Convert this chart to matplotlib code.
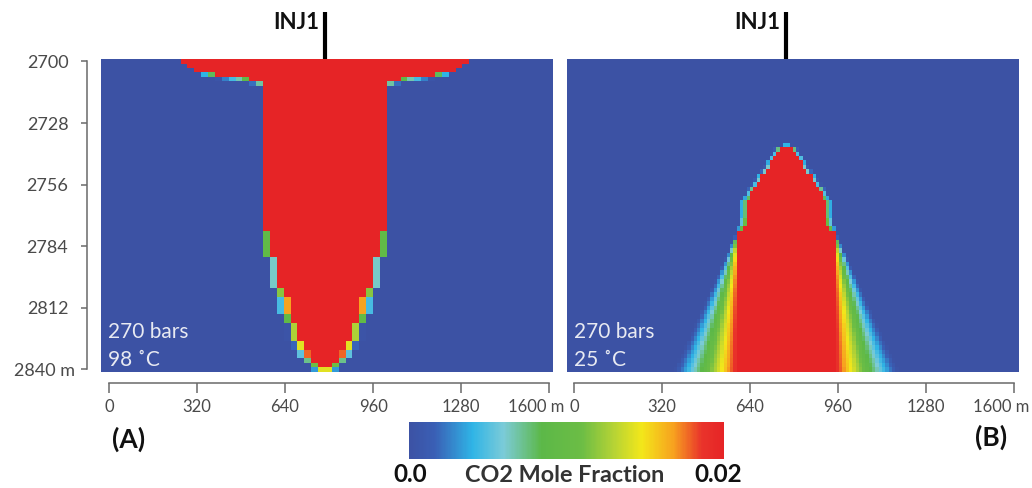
import numpy as np
import matplotlib
matplotlib.use("Agg")
import matplotlib.pyplot as plt
from matplotlib.colors import LinearSegmentedColormap
from matplotlib import transforms

plt.rcParams['font.family'] = ['Lato', 'DejaVu Sans']

# ---------------- data ----------------
x_ticks = [0, 320, 640, 960, 1280, 1600]
x_labels = ['0', '320', '640', '960', '1280', '1600 m']
y_ticks = [2700, 2728, 2756, 2784, 2812, 2840]
y_labels = ['2700', '2728', '2756', '2784', '2812', '2840 m']

panel_tags = ['(A)', '(B)']
pressure_text = ['270 bars', '270 bars']
temperature_text = ['98 ˚C', '25 ˚C']
well_name = 'INJ1'
well_x = [785, 772]            # m, injection well position
x_range = [(-29, 1614), (-25, 1618)]
depth_range = (2699, 2841)
cell_dx = [25, 12]             # m, horizontal cell size per panel
cell_dz = 2                    # m, vertical cell size
co2_max = 0.02

# per-row (2 m rows, 2700..2840 m) half-widths of plume (m from well)
A_core = [513, 494, 465, 407, 284, 227, 227, 227, 227, 227,
          227, 227, 227, 227, 227, 227, 227, 227, 227, 227,
          227, 227, 227, 227, 227, 227, 227, 227, 227, 227,
          227, 227, 227, 227, 227, 227, 227, 227, 227, 196,
          196, 196, 196, 196, 196, 164, 164, 164, 164, 164,
          164, 164, 150, 150, 135, 135, 135, 135, 120, 120,
          102, 102, 102, 102, 80, 80, 62, 62, 40, 22,
          4]
A_outer = [513, 500, 483, 462, 393, 273, 227, 227, 227, 227,
           227, 227, 227, 227, 227, 227, 227, 227, 227, 227,
           227, 227, 227, 227, 227, 227, 227, 227, 227, 227,
           227, 227, 227, 227, 227, 227, 227, 227, 227, 230,
           230, 230, 230, 230, 230, 200, 200, 200, 200, 200,
           200, 200, 186, 186, 172, 172, 172, 172, 156, 156,
           138, 138, 138, 138, 116, 116, 98, 98, 78, 62,
           45]
A_edge_value = [0.45, 0.45, 0.45, 0.45, 0.45, 0.45, 1, 1, 1, 1,
                1, 1, 1, 1, 1, 1, 1, 1, 1, 1,
                1, 1, 1, 1, 1, 1, 1, 1, 1, 1,
                1, 1, 1, 1, 1, 1, 1, 1, 1, 0.9,
                0.9, 0.9, 0.9, 0.9, 0.9, 0.9, 0.9, 0.9, 0.9, 0.9,
                0.9, 0.9, 0.9, 0.9, 0.9, 0.9, 0.9, 0.9, 0.9, 0.9,
                0.9, 0.9, 0.9, 0.9, 0.9, 0.9, 0.9, 0.9, 0.9, 0.9,
                0.9]

B_core = [0, 0, 0, 0, 0, 0, 0, 0, 0, 0,
          0, 0, 0, 0, 0, 0, 0, 0, 0, 0,
          29, 36, 47, 55, 62, 73, 91, 98, 105, 124,
          131, 138, 149, 149, 149, 149, 149, 149, 160, 174,
          174, 174, 174, 174, 174, 174, 174, 174, 174, 174,
          174, 174, 174, 174, 174, 174, 174, 174, 174, 174,
          174, 174, 174, 174, 174, 174, 174, 174, 174, 174,
          174]
B_outer = [0, 0, 0, 0, 0, 0, 0, 0, 0, 0,
           0, 0, 0, 0, 0, 0, 0, 0, 0, 18,
           44, 51, 65, 76, 80, 95, 113, 116, 127, 142,
           149, 160, 174, 174, 174, 174, 174, 174, 180, 180,
           187, 194, 202, 209, 216, 224, 231, 238, 245, 253,
           260, 267, 274, 282, 289, 296, 304, 311, 318, 325,
           333, 340, 347, 354, 362, 369, 376, 383, 391, 398,
           405]
B_edge_value = [0, 0, 0, 0, 0, 0, 0, 0, 0, 0,
                0, 0, 0, 0, 0, 0, 0, 0, 0, 0.3,
                0.4, 0.4, 0.4, 0.4, 0.4, 0.4, 0.4, 0.4, 0.4, 0.4,
                0.4, 0.4, 0.4, 0.4, 0.4, 0.4, 0.55, 0.55, 0.55, 1,
                1, 1, 1, 1, 1, 1, 1, 1, 1, 1,
                1, 1, 1, 1, 1, 1, 1, 1, 1, 1,
                1, 1, 1, 1, 1, 1, 1, 1, 1, 1,
                1]

cmap_stops = [0.0, 0.08, 0.2, 0.3, 0.42, 0.55, 0.65, 0.74, 0.84, 0.93, 1.0]
cmap_colors = ['#3c52a4', '#3a5fb5', '#2fb4e6', '#7ccbd8', '#5cb848', '#6cbd45',
               '#b5d335', '#f3e71a', '#f7a21f', '#e9342b', '#e62426']

# ---------------- figure ----------------
W, H = 1032, 488
fig = plt.figure(figsize=(W / 100, H / 100), dpi=100)
cmap = LinearSegmentedColormap.from_list('co2', list(zip(cmap_stops, cmap_colors)))

z_edges = np.arange(depth_range[0], depth_range[1] + 1, cell_dz)


def build_field(core, outer, edge_val, cx, dx):
    n = int(np.ceil(900 / dx))
    x_edges = cx + dx * np.arange(-n, n + 1)
    x_cent = 0.5 * (x_edges[:-1] + x_edges[1:])
    core = np.asarray(core, float)[:, None]
    outer = np.asarray(outer, float)[:, None]
    ev = np.asarray(edge_val, float)[:, None]
    d = np.abs(x_cent[None, :] - cx)
    span = np.maximum(outer - core, 1e-9)
    fringe = np.clip((outer - d) / span, 0, 1) * ev
    v = np.where(d < core, 1.0, np.where(d < outer, fringe, 0.0))
    return x_edges, v * co2_max


panels = [(A_core, A_outer, A_edge_value), (B_core, B_outer, B_edge_value)]
lefts = [101, 567]
ax_w = 452
top_px, bot_px = 59.3, 371.7
tick_color = '#4a4a4a'
spine_color = '#6a6a6a'
shift = lambda px: transforms.ScaledTranslation(px / 100, 0, fig.dpi_scale_trans)

mesh = None
for i, (core, outer, ev) in enumerate(panels):
    ax = fig.add_axes([lefts[i] / W, (H - bot_px) / H, ax_w / W, (bot_px - top_px) / H])
    x_edges, field = build_field(core, outer, ev, well_x[i], cell_dx[i])
    mesh = ax.pcolormesh(x_edges, z_edges, field, cmap=cmap, vmin=0, vmax=co2_max,
                         shading='flat', rasterized=True)
    ax.set_xlim(*x_range[i])
    ax.set_ylim(depth_range[1], depth_range[0])
    for s in ['top', 'right']:
        ax.spines[s].set_visible(False)
    ax.spines['bottom'].set_position(('outward', 8.4))
    ax.spines['bottom'].set_bounds(x_ticks[0], x_ticks[-1])
    ax.spines['bottom'].set_color(spine_color)
    ax.spines['bottom'].set_linewidth(1.1)
    ax.set_xticks(x_ticks)
    ax.set_xticklabels(x_labels)
    ax.tick_params(axis='x', direction='out', length=7, width=1.1, color=spine_color,
                   labelsize=12, labelcolor=tick_color, pad=4)
    lab = ax.get_xticklabels()[-1]
    lab.set_transform(lab.get_transform() + shift(-13))
    if i == 0:
        ax.spines['left'].set_position(('outward', 10))
        ax.spines['left'].set_bounds(y_ticks[0], y_ticks[-1])
        ax.spines['left'].set_color(spine_color)
        ax.spines['left'].set_linewidth(1.1)
        ax.set_yticks(y_ticks)
        ax.set_yticklabels(y_labels)
        ax.tick_params(axis='y', direction='out', length=4.5, width=1.1, color=spine_color,
                       labelsize=13, labelcolor=tick_color, pad=9)
        ylab = ax.get_yticklabels()[-1]
        ylab.set_transform(ylab.get_transform() + shift(7))
    else:
        ax.spines['left'].set_visible(False)
        ax.set_yticks([])

    # well marker
    bt = transforms.blended_transform_factory(ax.transData, ax.transAxes)
    ax.plot([well_x[i], well_x[i]], [1.0, 1.15], color='black', lw=3.0,
            solid_capstyle='butt', transform=bt, clip_on=False)
    ax.text(well_x[i], 1.097, well_name, transform=bt + shift(-6),
            ha='right', va='baseline', fontsize=16, fontweight='bold', color='#111111')

    # conditions text
    ax.text(0.016, 0.127, pressure_text[i], transform=ax.transAxes, ha='left', va='center',
            fontsize=15, color='#e8eaf2')
    ax.text(0.016, 0.037, temperature_text[i], transform=ax.transAxes, ha='left', va='center',
            fontsize=15, color='#e8eaf2')

# panel tags
fig.text(129 / W, (H - 439) / H, panel_tags[0], ha='center', va='center', fontsize=19,
         fontweight='bold', color='#111111')
fig.text(991.5 / W, (H - 437.5) / H, panel_tags[1], ha='center', va='center', fontsize=19,
         fontweight='bold', color='#111111')

# colour bar
cax = fig.add_axes([409 / W, (H - 459) / H, 315 / W, 37 / H])
cb = fig.colorbar(mesh, cax=cax, orientation='horizontal')
cb.outline.set_visible(False)
cax.set_xticks([])
fig.text(410 / W, (H - 482) / H, '0.0', ha='center', va='baseline', fontsize=17.5,
         fontweight='bold', color='#111111')
fig.text(564.5 / W, (H - 482) / H, 'CO2 Mole Fraction', ha='center', va='baseline', fontsize=16.8,
         fontweight='bold', color='#333333')
fig.text(718.5 / W, (H - 482) / H, '0.02', ha='center', va='baseline', fontsize=17.5,
         fontweight='bold', color='#111111')

fig.savefig('out.png', dpi=100)
